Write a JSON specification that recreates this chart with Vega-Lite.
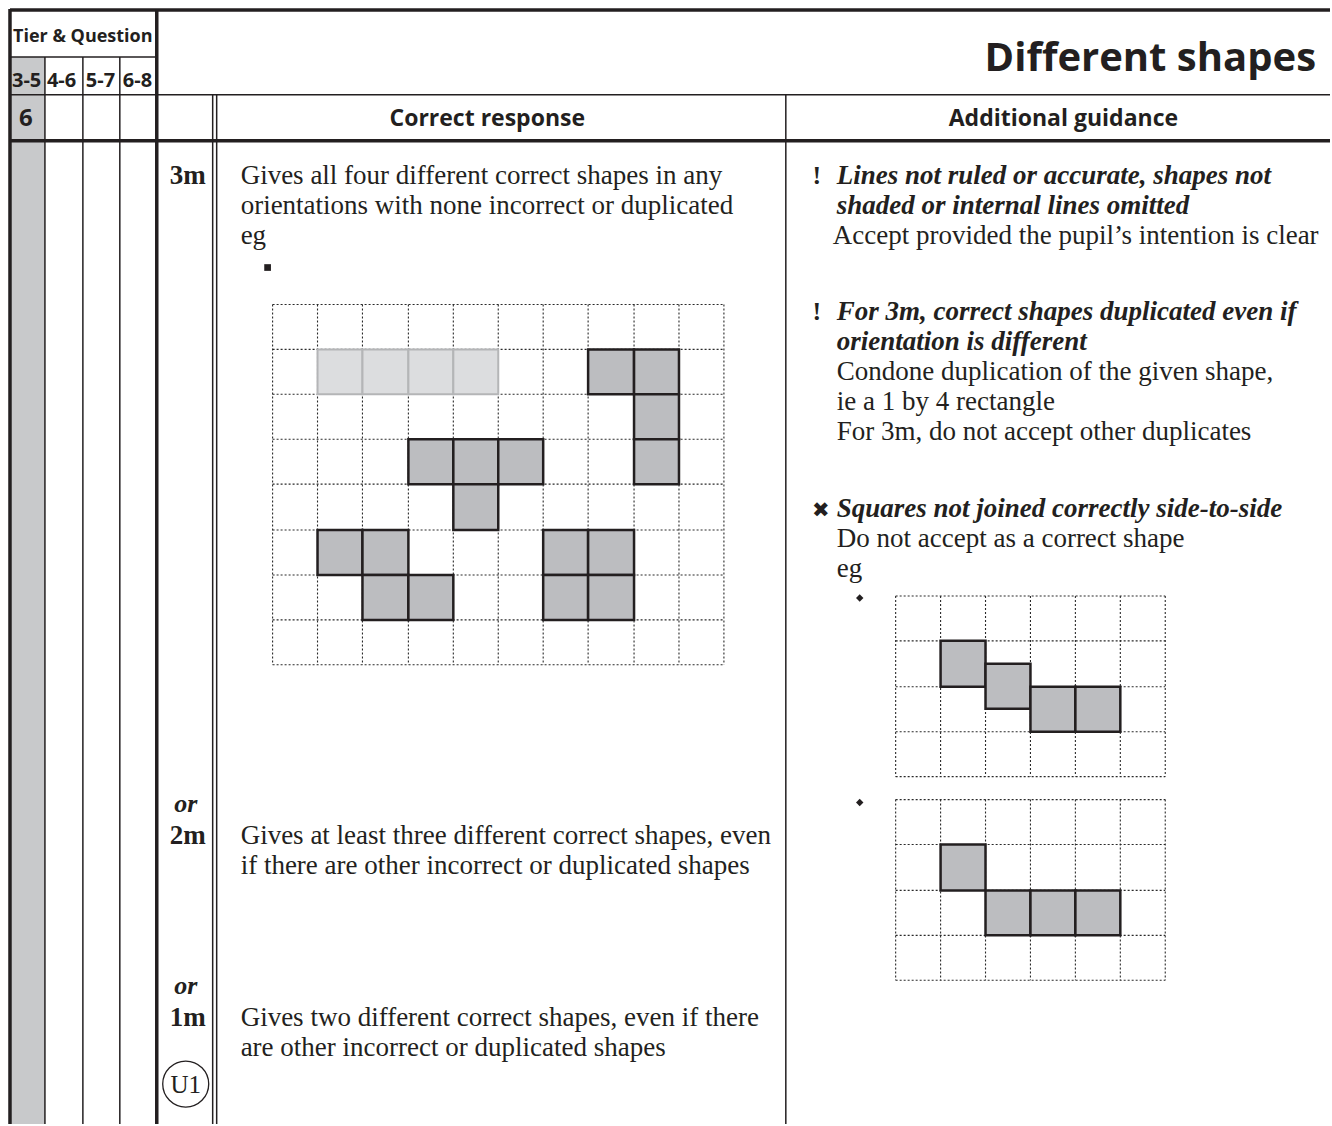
{
  "$schema": "https://vega.github.io/schema/vega-lite/v6.json",
  "width": 1332,
  "height": 1126,
  "padding": 0,
  "autosize": {"type": "fit", "contains": "padding"},
  "background": "white",
  "config": {"view": {"stroke": null}},
  "datasets": {
    "greyColumn": [{"x": 10, "x2": 45, "y": 57, "y2": 1126}],
    "gridLines": [
      {"x": 273, "x2": 273, "y": 305, "y2": 666},
      {"x": 318, "x2": 318, "y": 305, "y2": 666},
      {"x": 363, "x2": 363, "y": 305, "y2": 666},
      {"x": 409, "x2": 409, "y": 305, "y2": 666},
      {"x": 454, "x2": 454, "y": 305, "y2": 666},
      {"x": 499, "x2": 499, "y": 305, "y2": 666},
      {"x": 544, "x2": 544, "y": 305, "y2": 666},
      {"x": 589, "x2": 589, "y": 305, "y2": 666},
      {"x": 635, "x2": 635, "y": 305, "y2": 666},
      {"x": 680, "x2": 680, "y": 305, "y2": 666},
      {"x": 725, "x2": 725, "y": 305, "y2": 666},
      {"x": 273, "x2": 725, "y": 305, "y2": 305},
      {"x": 273, "x2": 725, "y": 350, "y2": 350},
      {"x": 273, "x2": 725, "y": 395, "y2": 395},
      {"x": 273, "x2": 725, "y": 440, "y2": 440},
      {"x": 273, "x2": 725, "y": 485, "y2": 485},
      {"x": 273, "x2": 725, "y": 531, "y2": 531},
      {"x": 273, "x2": 725, "y": 576, "y2": 576},
      {"x": 273, "x2": 725, "y": 621, "y2": 621},
      {"x": 273, "x2": 725, "y": 666, "y2": 666},
      {"x": 897, "x2": 897, "y": 597, "y2": 778},
      {"x": 942, "x2": 942, "y": 597, "y2": 778},
      {"x": 987, "x2": 987, "y": 597, "y2": 778},
      {"x": 1032, "x2": 1032, "y": 597, "y2": 778},
      {"x": 1077, "x2": 1077, "y": 597, "y2": 778},
      {"x": 1122, "x2": 1122, "y": 597, "y2": 778},
      {"x": 1167, "x2": 1167, "y": 597, "y2": 778},
      {"x": 897, "x2": 1167, "y": 597, "y2": 597},
      {"x": 897, "x2": 1167, "y": 642, "y2": 642},
      {"x": 897, "x2": 1167, "y": 688, "y2": 688},
      {"x": 897, "x2": 1167, "y": 733, "y2": 733},
      {"x": 897, "x2": 1167, "y": 778, "y2": 778},
      {"x": 897, "x2": 897, "y": 801, "y2": 982},
      {"x": 942, "x2": 942, "y": 801, "y2": 982},
      {"x": 987, "x2": 987, "y": 801, "y2": 982},
      {"x": 1032, "x2": 1032, "y": 801, "y2": 982},
      {"x": 1077, "x2": 1077, "y": 801, "y2": 982},
      {"x": 1122, "x2": 1122, "y": 801, "y2": 982},
      {"x": 1167, "x2": 1167, "y": 801, "y2": 982},
      {"x": 897, "x2": 1167, "y": 801, "y2": 801},
      {"x": 897, "x2": 1167, "y": 846, "y2": 846},
      {"x": 897, "x2": 1167, "y": 892, "y2": 892},
      {"x": 897, "x2": 1167, "y": 937, "y2": 937},
      {"x": 897, "x2": 1167, "y": 982, "y2": 982}
    ],
    "givenShape": [
      {"x": 318, "x2": 363, "y": 350, "y2": 395},
      {"x": 363, "x2": 409, "y": 350, "y2": 395},
      {"x": 409, "x2": 454, "y": 350, "y2": 395},
      {"x": 454, "x2": 499, "y": 350, "y2": 395}
    ],
    "shapeCells": [
      {"shape": "L", "x": 589, "x2": 635, "y": 350, "y2": 395},
      {"shape": "L", "x": 635, "x2": 680, "y": 350, "y2": 395},
      {"shape": "L", "x": 635, "x2": 680, "y": 395, "y2": 440},
      {"shape": "L", "x": 635, "x2": 680, "y": 440, "y2": 485},
      {"shape": "T", "x": 409, "x2": 454, "y": 440, "y2": 485},
      {"shape": "T", "x": 454, "x2": 499, "y": 440, "y2": 485},
      {"shape": "T", "x": 499, "x2": 544, "y": 440, "y2": 485},
      {"shape": "T", "x": 454, "x2": 499, "y": 485, "y2": 531},
      {"shape": "Z", "x": 318, "x2": 363, "y": 531, "y2": 576},
      {"shape": "Z", "x": 363, "x2": 409, "y": 531, "y2": 576},
      {"shape": "Z", "x": 363, "x2": 409, "y": 576, "y2": 621},
      {"shape": "Z", "x": 409, "x2": 454, "y": 576, "y2": 621},
      {"shape": "O", "x": 544, "x2": 589, "y": 531, "y2": 576},
      {"shape": "O", "x": 589, "x2": 635, "y": 531, "y2": 576},
      {"shape": "O", "x": 544, "x2": 589, "y": 576, "y2": 621},
      {"shape": "O", "x": 589, "x2": 635, "y": 576, "y2": 621},
      {"shape": "wrong1", "x": 942, "x2": 987, "y": 642, "y2": 688},
      {"shape": "wrong1", "x": 987, "x2": 1032, "y": 665, "y2": 710},
      {"shape": "wrong1", "x": 1032, "x2": 1077, "y": 688, "y2": 733},
      {"shape": "wrong1", "x": 1077, "x2": 1122, "y": 688, "y2": 733},
      {"shape": "wrong2", "x": 942, "x2": 987, "y": 846, "y2": 892},
      {"shape": "wrong2", "x": 987, "x2": 1032, "y": 892, "y2": 937},
      {"shape": "wrong2", "x": 1032, "x2": 1077, "y": 892, "y2": 937},
      {"shape": "wrong2", "x": 1077, "x2": 1122, "y": 892, "y2": 937}
    ],
    "thinRules": [
      {"x": 10, "x2": 157, "y": 57, "y2": 57},
      {"x": 10, "x2": 1332, "y": 95, "y2": 95},
      {"x": 45, "x2": 45, "y": 57, "y2": 1126},
      {"x": 83, "x2": 83, "y": 57, "y2": 1126},
      {"x": 120, "x2": 120, "y": 57, "y2": 1126},
      {"x": 213, "x2": 213, "y": 95, "y2": 1126},
      {"x": 217, "x2": 217, "y": 95, "y2": 1126},
      {"x": 787, "x2": 787, "y": 95, "y2": 1126}
    ],
    "thickRules": [
      {"x": 10, "x2": 1332, "y": 10, "y2": 10},
      {"x": 10, "x2": 10, "y": 9, "y2": 1126},
      {"x": 157, "x2": 157, "y": 9, "y2": 1126},
      {"x": 10, "x2": 1332, "y": 141, "y2": 141}
    ],
    "squareBullets": [{"x": 268, "y": 268}],
    "diamondBullets": [{"x": 861, "y": 599}, {"x": 861, "y": 804}],
    "circleMark": [{"x": 186, "y": 1086}],
    "tierHeader": [{"x": 13, "y": 42, "t": "Tier & Question"}],
    "tierText": [
      {"x": 12, "y": 87, "t": "3-5"},
      {"x": 47, "y": 87, "t": "4-6"},
      {"x": 86, "y": 87, "t": "5-7"},
      {"x": 123, "y": 87, "t": "6-8"}
    ],
    "questionText": [{"x": 19, "y": 126, "t": "6"}],
    "headerText": [
      {"x": 488, "y": 126, "t": "Correct response"},
      {"x": 1065, "y": 126, "t": "Additional guidance"}
    ],
    "titleText": [{"x": 1318, "y": 71, "t": "Different shapes"}],
    "markText": [
      {"x": 188, "y": 184, "t": "3m"},
      {"x": 188, "y": 846, "t": "2m"},
      {"x": 188, "y": 1028, "t": "1m"}
    ],
    "orText": [
      {"x": 186, "y": 813, "t": "or"},
      {"x": 186, "y": 996, "t": "or"}
    ],
    "bodyText": [
      {"x": 241, "y": 184, "t": "Gives all four different correct shapes in any"},
      {"x": 241, "y": 214, "t": "orientations with none incorrect or duplicated"},
      {"x": 241, "y": 244, "t": "eg"},
      {"x": 241, "y": 846, "t": "Gives at least three different correct shapes, even"},
      {"x": 241, "y": 876, "t": "if there are other incorrect or duplicated shapes"},
      {"x": 241, "y": 1028, "t": "Gives two different correct shapes, even if there"},
      {"x": 241, "y": 1058, "t": "are other incorrect or duplicated shapes"},
      {"x": 834, "y": 244, "t": "Accept provided the pupil’s intention is clear"},
      {"x": 838, "y": 381, "t": "Condone duplication of the given shape,"},
      {"x": 838, "y": 411, "t": "ie a 1 by 4 rectangle"},
      {"x": 838, "y": 441, "t": "For 3m, do not accept other duplicates"},
      {"x": 838, "y": 548, "t": "Do not accept as a correct shape"},
      {"x": 838, "y": 578, "t": "eg"}
    ],
    "guidanceHeads": [
      {"x": 838, "y": 184, "t": "Lines not ruled or accurate, shapes not"},
      {"x": 838, "y": 214, "t": "shaded or internal lines omitted"},
      {"x": 838, "y": 321, "t": "For 3m, correct shapes duplicated even if"},
      {"x": 838, "y": 351, "t": "orientation is different"},
      {"x": 838, "y": 518, "t": "Squares not joined correctly side-to-side"}
    ],
    "bangText": [
      {"x": 818, "y": 184, "t": "!"},
      {"x": 818, "y": 321, "t": "!"}
    ],
    "crossText": [{"x": 822, "y": 518, "t": "✖"}],
    "u1Text": [{"x": 186, "y": 1095, "t": "U1"}]
  },
  "encoding": {
    "x": {"field": "x", "type": "quantitative", "scale": {"domain": [0, 1332], "nice": false, "zero": false}, "axis": null},
    "y": {"field": "y", "type": "quantitative", "scale": {"domain": [0, 1126], "nice": false, "zero": false, "reverse": true}, "axis": null}
  },
  "layer": [
    {
      "data": {"name": "greyColumn"},
      "mark": {"type": "rect", "fill": "#c8c9cb", "strokeWidth": 0},
      "encoding": {"x2": {"field": "x2"}, "y2": {"field": "y2"}}
    },
    {
      "data": {"name": "gridLines"},
      "mark": {"type": "rule", "color": "#2a2a2a", "strokeWidth": 1.1, "strokeDash": [2, 2]},
      "encoding": {"x2": {"field": "x2"}, "y2": {"field": "y2"}}
    },
    {
      "data": {"name": "givenShape"},
      "mark": {"type": "rect", "fill": "#dcdddf", "stroke": "#b4b5b7", "strokeWidth": 2},
      "encoding": {"x2": {"field": "x2"}, "y2": {"field": "y2"}}
    },
    {
      "data": {"name": "shapeCells"},
      "mark": {"type": "rect", "fill": "#bcbdc0", "stroke": "#231f20", "strokeWidth": 2.5},
      "encoding": {"x2": {"field": "x2"}, "y2": {"field": "y2"}}
    },
    {
      "data": {"name": "thinRules"},
      "mark": {"type": "rule", "color": "#231f20", "strokeWidth": 1.5},
      "encoding": {"x2": {"field": "x2"}, "y2": {"field": "y2"}}
    },
    {
      "data": {"name": "thickRules"},
      "mark": {"type": "rule", "color": "#231f20", "strokeWidth": 3.5},
      "encoding": {"x2": {"field": "x2"}, "y2": {"field": "y2"}}
    },
    {
      "data": {"name": "squareBullets"},
      "mark": {"type": "point", "shape": "square", "filled": true, "color": "#231f20", "size": 45, "opacity": 1},
      "encoding": {}
    },
    {
      "data": {"name": "diamondBullets"},
      "mark": {"type": "point", "shape": "diamond", "filled": true, "color": "#231f20", "size": 55, "opacity": 1},
      "encoding": {}
    },
    {
      "data": {"name": "circleMark"},
      "mark": {"type": "point", "shape": "circle", "filled": false, "stroke": "#231f20", "strokeWidth": 1.3, "size": 2116, "opacity": 1},
      "encoding": {}
    },
    {
      "data": {"name": "tierHeader"},
      "mark": {"type": "text", "font": "Open Sans", "fontWeight": "bold", "fontSize": 18, "align": "left", "baseline": "alphabetic", "color": "#231f20"},
      "encoding": {"text": {"field": "t"}}
    },
    {
      "data": {"name": "tierText"},
      "mark": {"type": "text", "font": "Open Sans", "fontWeight": "bold", "fontSize": 20, "align": "left", "baseline": "alphabetic", "color": "#231f20"},
      "encoding": {"text": {"field": "t"}}
    },
    {
      "data": {"name": "questionText"},
      "mark": {"type": "text", "font": "Open Sans", "fontWeight": "bold", "fontSize": 24, "align": "left", "baseline": "alphabetic", "color": "#231f20"},
      "encoding": {"text": {"field": "t"}}
    },
    {
      "data": {"name": "headerText"},
      "mark": {"type": "text", "font": "Open Sans", "fontWeight": "bold", "fontSize": 23, "align": "center", "baseline": "alphabetic", "color": "#231f20"},
      "encoding": {"text": {"field": "t"}}
    },
    {
      "data": {"name": "titleText"},
      "mark": {"type": "text", "font": "Open Sans", "fontWeight": "bold", "fontSize": 40, "align": "right", "baseline": "alphabetic", "color": "#231f20"},
      "encoding": {"text": {"field": "t"}}
    },
    {
      "data": {"name": "markText"},
      "mark": {"type": "text", "font": "Liberation Serif", "fontWeight": "bold", "fontSize": 27, "align": "center", "baseline": "alphabetic", "color": "#231f20"},
      "encoding": {"text": {"field": "t"}}
    },
    {
      "data": {"name": "orText"},
      "mark": {"type": "text", "font": "Liberation Serif", "fontWeight": "bold", "fontStyle": "italic", "fontSize": 26, "align": "center", "baseline": "alphabetic", "color": "#231f20"},
      "encoding": {"text": {"field": "t"}}
    },
    {
      "data": {"name": "bodyText"},
      "mark": {"type": "text", "font": "Liberation Serif", "fontSize": 27, "align": "left", "baseline": "alphabetic", "color": "#231f20"},
      "encoding": {"text": {"field": "t"}}
    },
    {
      "data": {"name": "guidanceHeads"},
      "mark": {"type": "text", "font": "Liberation Serif", "fontWeight": "bold", "fontStyle": "italic", "fontSize": 27, "align": "left", "baseline": "alphabetic", "color": "#231f20"},
      "encoding": {"text": {"field": "t"}}
    },
    {
      "data": {"name": "bangText"},
      "mark": {"type": "text", "font": "Liberation Serif", "fontWeight": "bold", "fontSize": 26, "align": "center", "baseline": "alphabetic", "color": "#231f20"},
      "encoding": {"text": {"field": "t"}}
    },
    {
      "data": {"name": "crossText"},
      "mark": {"type": "text", "font": "DejaVu Sans", "fontSize": 21, "align": "center", "baseline": "alphabetic", "color": "#231f20"},
      "encoding": {"text": {"field": "t"}}
    },
    {
      "data": {"name": "u1Text"},
      "mark": {"type": "text", "font": "Liberation Serif", "fontSize": 25, "align": "center", "baseline": "alphabetic", "color": "#231f20"},
      "encoding": {"text": {"field": "t"}}
    }
  ]
}
